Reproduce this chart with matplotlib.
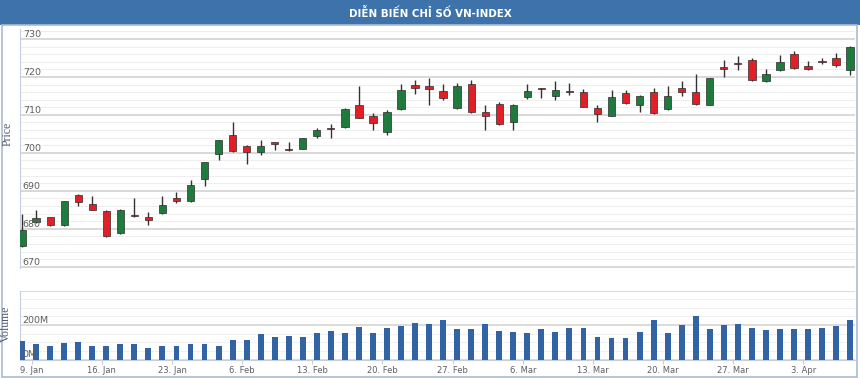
import matplotlib
matplotlib.use('Agg')
import matplotlib.pyplot as plt
from matplotlib.patches import Rectangle
from matplotlib.transforms import blended_transform_factory
import numpy as np

W, H = 860, 378

# --- Données ---
opens  = [675.4, 681.9, 683.0, 680.9, 689.0, 686.6, 684.7, 678.9, 683.6, 683.2,
          684.1, 688.1, 687.2, 693.2, 699.7, 704.7, 701.9, 700.1, 702.8, 700.9,
          701.1, 704.5, 706.5, 706.8, 712.6, 709.6, 705.6, 711.5, 717.9, 717.5,
          716.4, 711.8, 718.2, 710.8, 712.8, 708.2, 714.6, 716.9, 715.1, 716.0,
          715.9, 711.9, 709.8, 715.7, 712.6, 715.9, 711.5, 717.2, 715.9, 712.6,
          722.5, 723.5, 724.5, 719.0, 721.8, 726.0, 723.0, 724.1, 724.9, 721.8]
highs  = [683.9, 685.0, 683.2, 687.4, 689.2, 688.7, 685.0, 685.1, 688.1, 684.4,
          688.5, 689.6, 692.9, 697.6, 703.5, 708.2, 702.1, 703.4, 702.9, 702.8,
          704.0, 706.5, 707.5, 711.8, 717.7, 710.4, 711.3, 718.1, 719.2, 719.8,
          718.1, 718.3, 719.2, 712.5, 713.5, 712.8, 718.1, 717.2, 718.8, 718.3,
          716.8, 712.6, 716.6, 716.6, 715.2, 717.0, 717.5, 718.8, 720.7, 719.8,
          724.5, 725.6, 725.1, 722.0, 725.8, 726.7, 724.2, 724.9, 726.2, 728.1]
lows   = [675.2, 681.5, 680.8, 680.6, 685.9, 684.9, 677.8, 678.7, 683.2, 681.1,
          684.0, 686.8, 687.0, 691.3, 698.0, 700.2, 697.0, 699.3, 700.8, 700.5,
          700.9, 703.9, 704.0, 706.6, 709.1, 706.1, 704.7, 711.3, 715.4, 712.6,
          713.9, 711.6, 710.5, 705.9, 707.3, 706.1, 714.2, 714.4, 713.9, 715.3,
          712.0, 708.0, 709.6, 712.9, 710.7, 710.3, 711.3, 715.1, 712.7, 712.5,
          720.1, 721.7, 719.0, 718.6, 721.6, 722.1, 721.8, 723.3, 722.7, 720.5]
closes = [679.7, 682.9, 681.0, 687.2, 687.0, 685.0, 678.0, 684.9, 683.4, 682.4,
          686.3, 687.2, 691.4, 697.5, 703.3, 700.4, 700.2, 701.9, 702.4, 700.7,
          703.9, 706.1, 706.3, 711.6, 709.3, 707.8, 710.7, 716.6, 717.2, 716.8,
          714.4, 717.6, 710.7, 709.6, 707.5, 712.6, 716.3, 716.8, 716.6, 715.9,
          712.2, 710.2, 714.8, 713.1, 715.0, 710.4, 715.1, 716.1, 712.9, 719.7,
          722.0, 723.3, 719.2, 720.7, 724.0, 722.3, 722.1, 724.0, 723.2, 728.0]
volumes = [110, 90, 77, 98, 102, 81, 77, 92, 87, 69,
           81, 77, 92, 90, 81, 115, 112, 148, 129, 137,
           129, 156, 167, 152, 187, 156, 183, 196, 212, 207,
           227, 175, 179, 208, 163, 160, 156, 175, 160, 183,
           183, 129, 123, 127, 160, 231, 156, 200, 250, 175,
           200, 204, 183, 171, 179, 179, 175, 183, 196, 227]  # millions

date_tick_idx    = [1, 6, 11, 16, 21, 26, 31, 36, 41, 46, 51, 56]
date_tick_labels = ['9. Jan', '16. Jan', '23. Jan', '6. Feb', '13. Feb', '20. Feb',
                    '27. Feb', '6. Mar', '13. Mar', '20. Mar', '27. Mar', '3. Apr']
price_ticks  = [670, 680, 690, 700, 710, 720, 730]
volume_ticks = [0, 200]

TITRE = 'DIỄN BIẾN CHỈ SỐ VN-INDEX'

VERT   = '#1f7a3d'
ROUGE  = '#e21f26'
MECHE  = '#333333'
BLEU   = '#3264a5'
BANDE  = '#3d72aa'
CADRE  = '#a9bcd2'
AXE    = '#c3cfdc'
TXT    = '#5e5e5e'


def axes_px(fig, left, top, right, bottom):
    return fig.add_axes([left / W, 1 - bottom / H, (right - left) / W, (bottom - top) / H])


fig = plt.figure(figsize=(W / 100, H / 100), dpi=100, facecolor='white')

# bandeau titre + cadre
fig.patches.append(Rectangle((0, 1 - 25 / H), 1, 25 / H, transform=fig.transFigure,
                             facecolor=BANDE, edgecolor='none', zorder=0))
fig.patches.append(Rectangle((1.5 / W, 1 - 377 / H), 855.5 / W, 352 / H,
                             transform=fig.transFigure, facecolor='none',
                             edgecolor=CADRE, linewidth=1.2, zorder=0))
titre = fig.text(0.5, 1 - 12.5 / H, TITRE, color='white', fontsize=10, fontweight='bold',
                 family=['Liberation Sans Narrow', 'DejaVu Sans'], ha='center', va='center')
# police étroite dans l'original : on ajuste la taille sur la largeur (~160 px)
rend = fig.canvas.get_renderer()
larg = titre.get_window_extent(rend).width
titre.set_fontsize(10 * 162 / larg)

x = np.arange(len(closes))
o, h, l, c = map(np.array, (opens, highs, lows, closes))
hausse = c >= o

# =======================================================================
# Prix (chandeliers)
# =======================================================================
ax = axes_px(fig, 20, 29.1, 855, 268.2)
ax.set_xlim(-0.15, len(x) - 0.65)
ax.set_ylim(669.6, 732.6)
ax.vlines(x, l, h, color=MECHE, linewidth=1.0, zorder=2)
corps = np.maximum(np.abs(c - o), 0.3)
ax.bar(x, corps, bottom=np.minimum(o, c), width=0.52,
       color=np.where(hausse, VERT, ROUGE), edgecolor='#2b2b2b', linewidth=0.5, zorder=3)

ax.set_yticks(np.arange(670, 733, 2), minor=True)
ax.set_yticks(price_ticks)
ax.grid(which='minor', axis='y', color='#eeeeee', linewidth=0.7)
ax.grid(which='major', axis='y', color='#d6d6d6', linewidth=1.3)
ax.set_axisbelow(True)
ax.tick_params(axis='both', which='both', length=0, labelleft=False, labelbottom=False)
ax.set_xticks([])
for s in ['top', 'right', 'bottom']:
    ax.spines[s].set_visible(False)
ax.spines['left'].set_color(AXE)
tr = blended_transform_factory(ax.transAxes, ax.transData)
for v in price_ticks:
    ax.annotate(str(v), xy=(0, v), xycoords=tr, xytext=(2, 1.5), textcoords='offset points',
                ha='left', va='baseline', fontsize=6.8, color=TXT)
fig.text(8 / W, 1 - 134 / H, 'Price', rotation=90, ha='center', va='center',
         fontsize=8.5, color='#4d5b75', family=['Liberation Serif', 'DejaVu Serif'])

# =======================================================================
# Volume
# =======================================================================
axv = axes_px(fig, 20, 290.5, 855, 359.5)
axv.set_xlim(-0.15, len(x) - 0.65)
axv.set_ylim(0, 400)
axv.bar(x, volumes, width=0.42, color=BLEU, zorder=3)
axv.set_yticks(np.arange(0, 401, 50), minor=True)
axv.set_yticks([0, 200, 400])
axv.grid(which='minor', axis='y', color='#f0f0f0', linewidth=0.7)
axv.grid(which='major', axis='y', color='#d6d6d6', linewidth=1.2)
axv.set_axisbelow(True)
axv.tick_params(axis='y', which='both', length=0, labelleft=False)
axv.set_xticks(np.array(date_tick_idx) - 0.32)
axv.set_xticklabels(date_tick_labels, fontsize=6, color=TXT)
axv.tick_params(axis='x', length=3, color=AXE, pad=2)
for s in ['top', 'right']:
    axv.spines[s].set_visible(False)
axv.spines['left'].set_color(AXE)
axv.spines['bottom'].set_color(AXE)
trv = blended_transform_factory(axv.transAxes, axv.transData)
for v in volume_ticks:
    axv.annotate(f'{v}M', xy=(0, v), xycoords=trv, xytext=(2, 1.5), textcoords='offset points',
                 ha='left', va='baseline', fontsize=6.8, color=TXT, zorder=5)
fig.text(6 / W, 1 - 324 / H, 'Volume', rotation=90, ha='center', va='center',
         fontsize=8.5, color='#4d5b75', family=['Liberation Serif', 'DejaVu Serif'])

fig.savefig('out.png', dpi=100, facecolor='white')
